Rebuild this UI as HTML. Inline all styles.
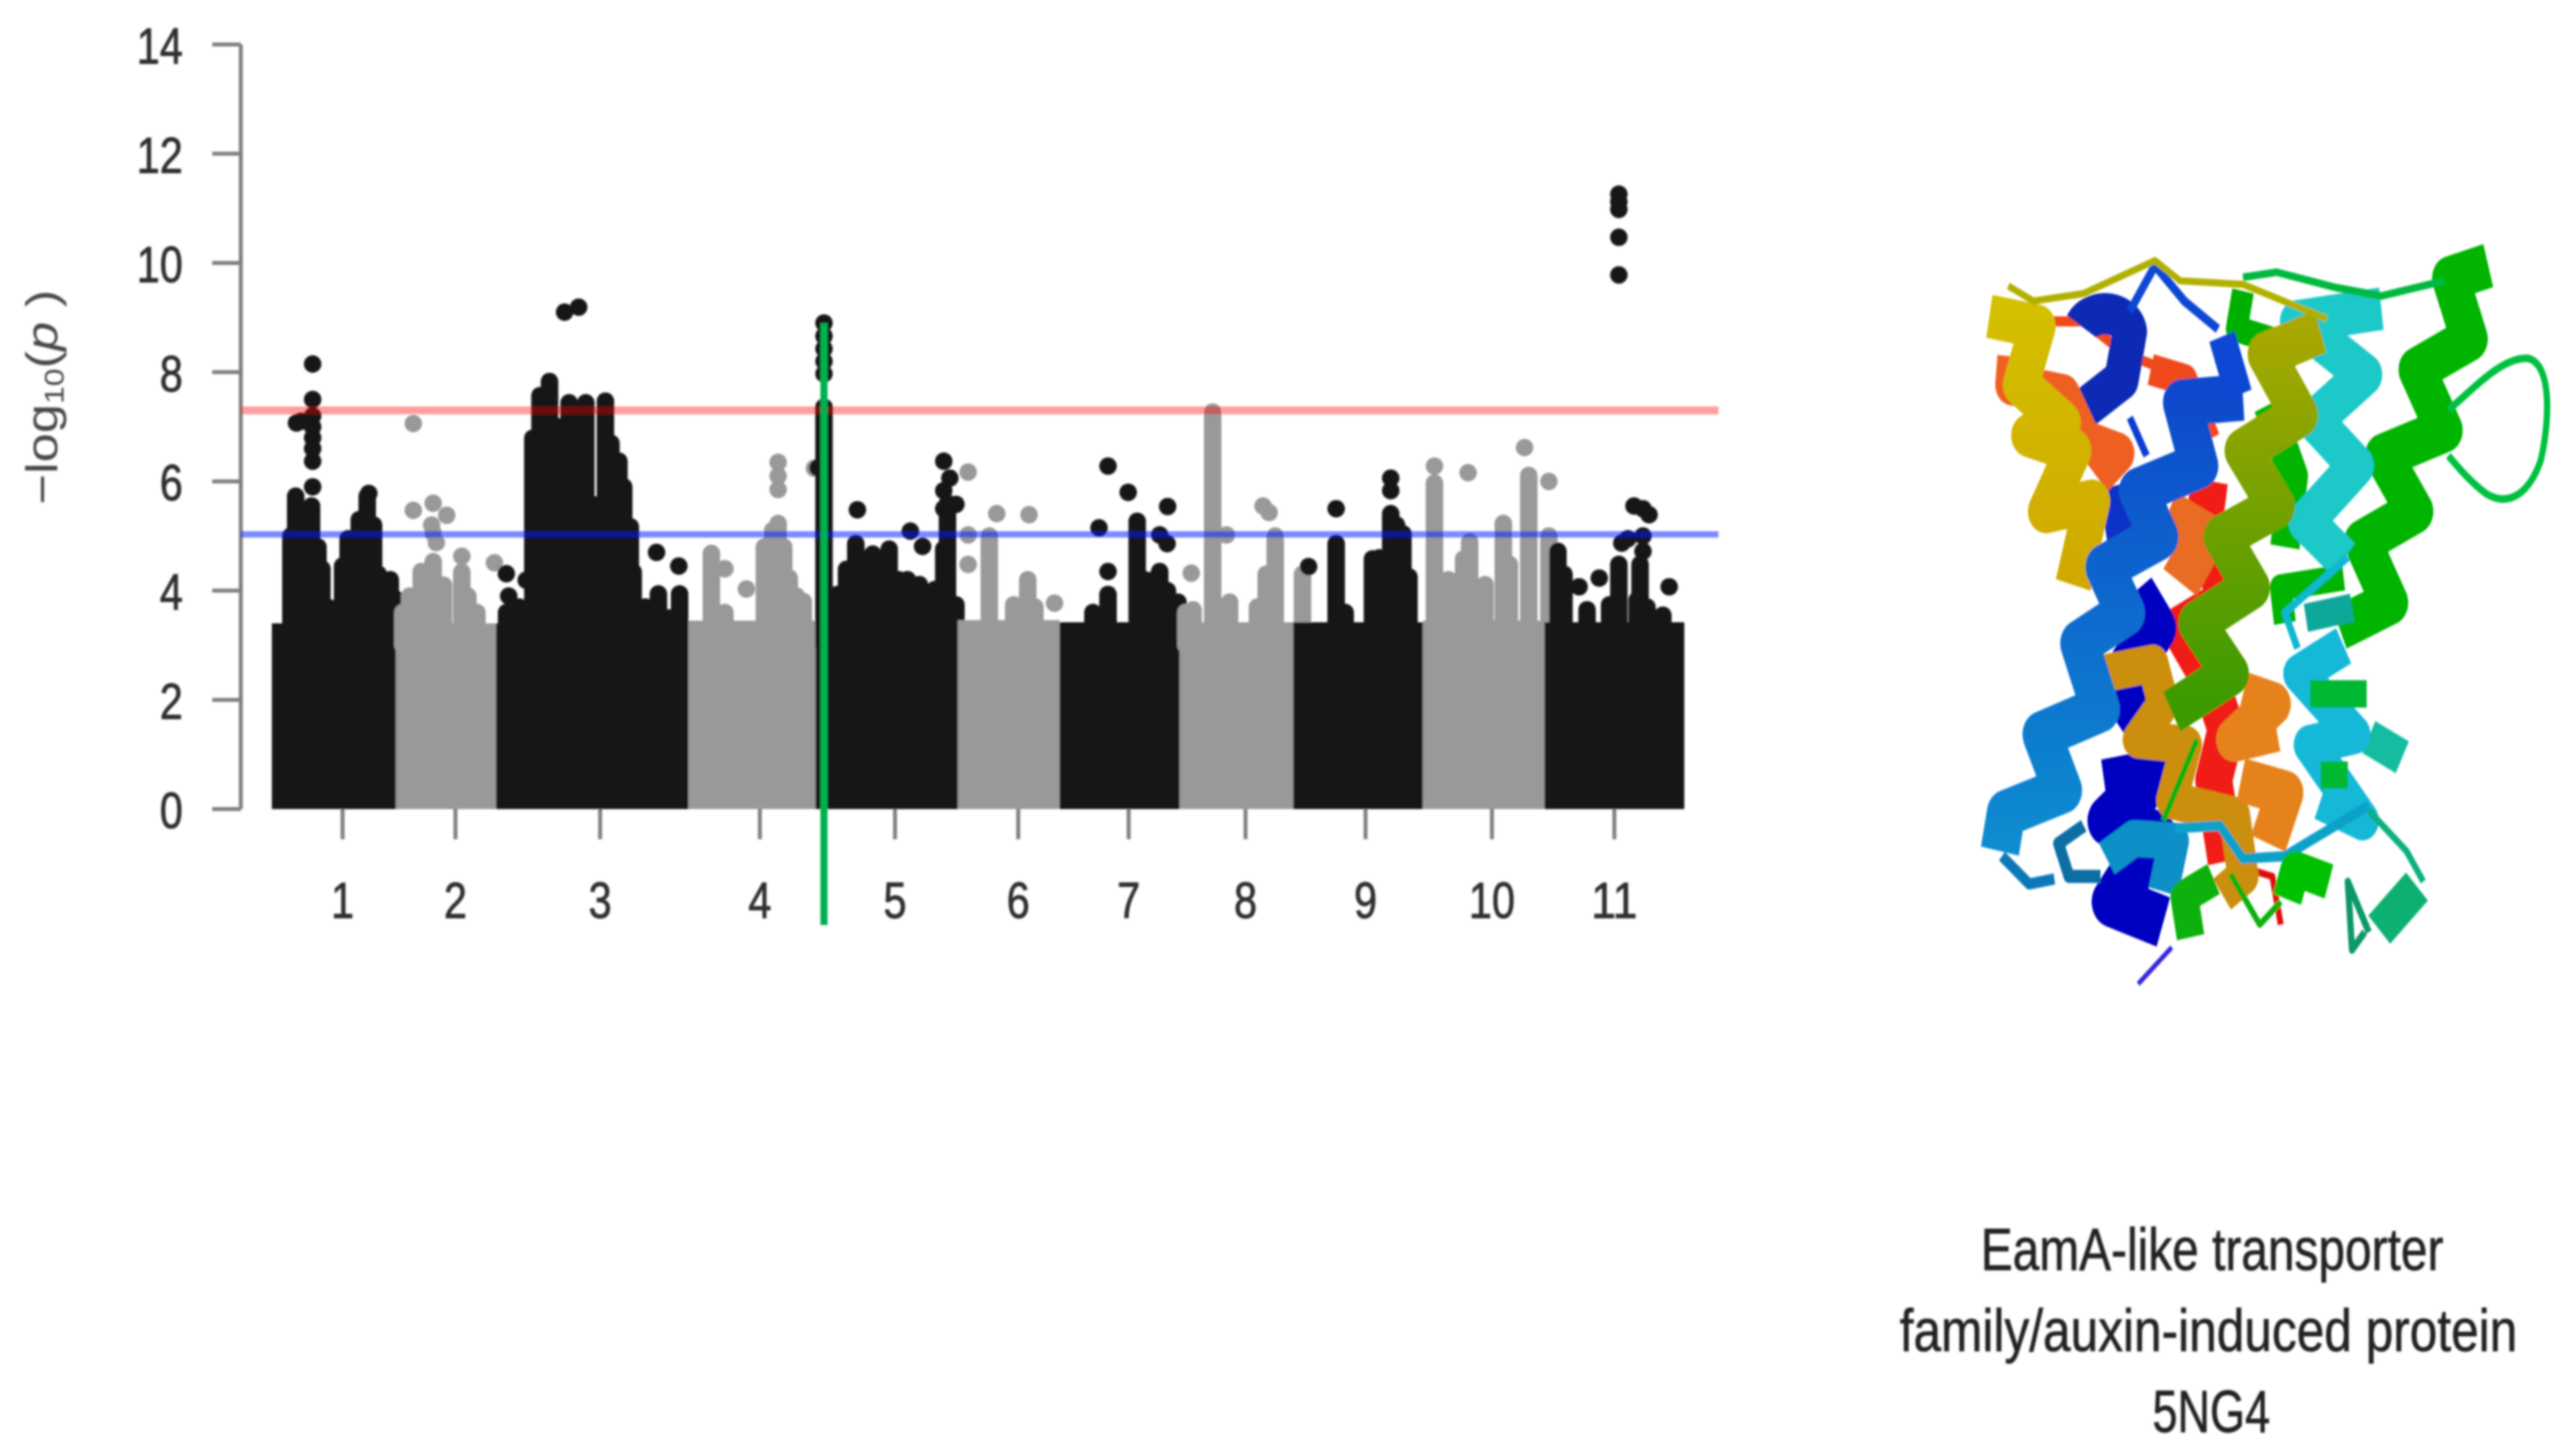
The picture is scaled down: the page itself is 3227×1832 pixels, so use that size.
<!DOCTYPE html>
<html lang="en">
<head>
<meta charset="utf-8">
<title>Manhattan plot and EamA-like transporter structure</title>
<style>
html,body{margin:0;padding:0;background:#fff;width:3227px;height:1832px;overflow:hidden}
svg{display:block}
text{font-family:"Liberation Sans",sans-serif}
</style>
</head>
<body>
<svg id="fig" xmlns="http://www.w3.org/2000/svg" width="3227" height="1832" viewBox="0 0 3227 1832">
<defs>
  <filter id="soft" x="-5%" y="-5%" width="110%" height="110%"><feGaussianBlur stdDeviation="1.4"/></filter>
  <filter id="softer" x="-5%" y="-5%" width="110%" height="110%"><feGaussianBlur stdDeviation="1.9"/></filter>
  <linearGradient id="blueGrad" gradientUnits="userSpaceOnUse" x1="0" y1="320" x2="0" y2="1300"><stop offset="0" stop-color="#0a48cc"/><stop offset="1" stop-color="#1092d0"/></linearGradient>
  <linearGradient id="oliveGrad" gradientUnits="userSpaceOnUse" x1="0" y1="210" x2="0" y2="960"><stop offset="0" stop-color="#a8a800"/><stop offset="1" stop-color="#3a9a00"/></linearGradient>
  <linearGradient id="yellowGrad" gradientUnits="userSpaceOnUse" x1="0" y1="150" x2="0" y2="720"><stop offset="0" stop-color="#d4c000"/><stop offset="1" stop-color="#d0a800"/></linearGradient>
</defs>

<g id="chart" filter="url(#soft)"></g>

<g id="protein" filter="url(#softer)" transform="translate(2400,280) scale(0.5274,0.6378)" fill="none" stroke-linejoin="round" stroke-linecap="butt">
  <path d="M720 510 L700 640 L770 740 L650 800 L720 900 L760 1000 L730 1100 L760 1260" stroke="#f01c14" stroke-width="88"/>
  <path d="M790 1270 L870 1290 L890 1385" stroke="#e01010" stroke-width="14"/>
  <path d="M330 195 L420 195 L520 260 L600 285" stroke="#f04a1c" stroke-width="20"/>
  <path d="M580 290 L660 310 L715 430" stroke="#f04a1c" stroke-width="62"/>
  <path d="M540 730 L590 800 L520 890 L560 960 L510 1000 M470 1110 L590 1090 L480 1180 L590 1210 L490 1340 L610 1380" stroke="#0404c0" stroke-width="102"/>
  <path d="M415 205 A60 40 0 0 1 530 215 L510 310 L425 365" stroke="#0a2cb4" stroke-width="82"/>
  <path d="M530 385 L570 460" stroke="#0a3cd0" stroke-width="16"/>
  <path d="M490 520 L510 620" stroke="#0a30c8" stroke-width="70"/>
  <path d="M255 265 L250 320 L370 340 L420 430 L500 455 L450 500" stroke="#ee6020" stroke-width="82"/>
  <path d="M195 185 L310 205 L270 320 L370 395 L290 420 L395 450 L330 570 L440 550 L395 715" stroke="url(#yellowGrad)" stroke-width="86"/>
  <path d="M620 575 L710 620 L650 710" stroke="#e86c20" stroke-width="96"/>
  <path d="M800 135 L785 210 L900 240" stroke="#00b000" stroke-width="52"/>
  <path d="M860 360 L920 500 L900 640" stroke="#00b400" stroke-width="70"/>
  <path d="M465 890 L585 870 L610 950 L550 1020 L665 1030 L630 1140 L780 1170 L800 1290 L750 1325" stroke="#cc8e08" stroke-width="74"/>
  <path d="M800 930 L870 950 L780 1020 L880 1000 M795 1100 L900 1125 L860 1225" stroke="#e6821c" stroke-width="88"/>
  <path d="M1385 85 L1295 110 L1340 230 L1215 290 L1280 410 L1135 460 L1210 570 L1085 630 L1150 750 L1030 800" stroke="#00b400" stroke-width="88"/>
  <path d="M1040 700 L890 720 L900 790" stroke="#00b400" stroke-width="52"/>
  <path d="M1130 170 L930 195 L1090 300 L970 390 L1070 480 L950 590 L1040 665" stroke="#1cc8c8" stroke-width="84"/>
  <path d="M985 215 L855 260 L935 380 L800 450 L880 560 L750 620 L820 720 L690 790 L770 890 L630 965" stroke="url(#oliveGrad)" stroke-width="88"/>
  <path d="M800 345 L655 355 L695 480 L550 530 L600 620 L470 680 L520 770 L410 830 L460 960 L320 1010 L370 1120 L235 1165 L220 1240" stroke="url(#blueGrad)" stroke-width="92"/>
  <path d="M225 1250 L290 1305 L350 1295" stroke="#1078b8" stroke-width="22"/>
  <path d="M530 175 L590 85 L660 155 L740 210" stroke="#0e46d4" stroke-width="18"/>
  <path d="M750 225 L790 340" stroke="#0e46d4" stroke-width="64"/>
  <path d="M1100 1015 L1180 1055" stroke="#12bca0" stroke-width="70"/>
  <path d="M950 780 L1060 760" stroke="#0ea89a" stroke-width="56"/>
  <path d="M1040 835 L935 890 L1065 1010 L960 1030 L1085 1180 L985 1140" stroke="#18b8d8" stroke-width="78"/>
  <path d="M960 930 L1095 930 M985 1090 L1050 1090" stroke="#00b830" stroke-width="54"/>
  <path d="M475 1255 L540 1215 L635 1220 L610 1320" stroke="#1090c8" stroke-width="72"/>
  <path d="M640 1195 L745 1190 L800 1255 L900 1250 L1000 1200 L1100 1150" stroke="#10a0c8" stroke-width="20"/>
  <path d="M420 1190 L360 1225 L385 1290 L460 1290" stroke="#106ea4" stroke-width="26"/>
  <path d="M1050 660 L900 770 L930 840" stroke="#10b8d0" stroke-width="16"/>
  <path d="M730 1295 L660 1330 L675 1410" stroke="#10b010" stroke-width="66"/>
  <path d="M1005 1300 L925 1275 L905 1335" stroke="#00c000" stroke-width="70"/>
  <path d="M890 1340 L840 1385 L770 1285 M690 1020 L610 1180" stroke="#10b010" stroke-width="13"/>
  <path d="M1100 1160 L1190 1240 L1230 1300" stroke="#10b080" stroke-width="14"/>
  <path d="M1215 1310 L1125 1395" stroke="#10b070" stroke-width="76"/>
  <path d="M1090 1400 L1060 1435 L1050 1300 L1100 1400" stroke="#0c9868" stroke-width="15"/>
  <path d="M1290 370 C1360 320 1420 265 1480 268 C1540 280 1530 400 1510 470 C1480 540 1430 560 1380 535 C1340 510 1310 480 1290 460" stroke="#00c040" stroke-width="15"/>
  <path d="M800 108 L880 98 L1020 128 L1130 145 L1280 115" stroke="#00b840" stroke-width="15"/>
  <path d="M240 125 L300 155 L420 140 L590 75 L650 115 L800 122 L1000 190" stroke="#b0b000" stroke-width="14"/>
  <path d="M630 1430 L550 1502" stroke="#3428e0" stroke-width="10"/>
</g>

<g filter="url(#soft)" fill="#222222" stroke="#222222" stroke-width="0.8" font-size="75" text-anchor="start">
  <text x="2492" y="1598" textLength="582" lengthAdjust="spacingAndGlyphs">EamA-like transporter</text>
  <text x="2390" y="1700" textLength="777" lengthAdjust="spacingAndGlyphs">family/auxin-induced protein</text>
  <text x="2708" y="1802" textLength="148" lengthAdjust="spacingAndGlyphs">5NG4</text>
</g>
</svg>

<script>
// Chromosome data (position units: Mb along the concatenated genome)
const chromLabels = ["1","2","3","4","5","6","7","8","9","10","11"];
const chromLengths = [46.8,37.8,72.6,48.0,53.7,38.4,45.3,42.9,48.9,45.9,52.8];
const chromTicks = [26.7,69.3,123.9,184.2,235.2,281.7,323.4,367.5,412.8,460.5,506.7];
const chromFloors = [3.4,3.4,3.4,3.45,3.7,3.46,3.42,3.42,3.42,3.45,3.42];
const yTicks = [0,2,4,6,8,10,12,14];
const genomeWideThreshold = 7.3;
const suggestiveThreshold = 5.03;
const markerPosition = 208.4;
const markerTop = 8.9;

// Dense columns of SNPs per chromosome: [position, top -log10(p)]
const columnsChr1 = [[7.2,5.0],[9,5.73],[12.9,5.2],[15,5.55],[17.4,4.8],[18.9,4.4],[21.9,3.68],[26.7,4.45],[28.8,4.95],[33,5.3],[36,5.73],[38.4,5.2],[40.2,4.3],[41.7,3.8],[44.7,4.2],[46.5,3.85]];
const columnsChr2 = [[49.5,3.6],[52,3.9],[56.4,4.35],[60.9,4.53],[64.8,4.1],[71.7,4.34],[74,3.9],[77.4,3.6]];
const columnsChr3 = [[88.6,3.6],[93.3,3.7],[98.5,6.79],[101.2,7.57],[104.8,7.83],[108,7.0],[112.2,7.44],[115,7.3],[118.5,7.44],[121.7,5.57],[125.9,7.47],[128,6.7],[131,6.37],[132.8,5.9],[135.3,5.17],[136.4,4.34],[138,3.7],[141,3.7],[145.9,3.94],[150,3.5],[153.9,3.94]];
const columnsChr4 = [[165.9,4.68],[171,3.6],[185.9,4.8],[189,5.1],[191.1,5.23],[193.2,4.8],[195.3,4.23],[198,3.9],[200.6,3.8]];
const columnsChr5 = [[208.4,7.36],[213.5,3.93],[216.9,4.39],[220.4,4.86],[223.8,4.3],[226.8,4.67],[230,4.4],[233,4.76],[236.5,4.2],[239.9,4.2],[244.4,4.11],[250.2,4.02],[253.6,4.76],[255,5.6],[258.2,3.74]];
const columnsChr6 = [[270.8,5.0],[280,3.74],[285.3,4.2],[288,3.7]];
const columnsChr7 = [[309.9,3.6],[315.6,3.93],[326.6,5.27],[329.4,4.2],[333,4.2],[335.1,4.35],[338,4.0],[342,3.79]];
const columnsChr8 = [[345,3.6],[347.7,3.65],[355.1,7.27],[361.5,3.79],[372,3.7],[375.3,4.3],[378.7,5.0],[389,4.3]];
const columnsChr9 = [[401.7,4.86],[405.1,3.6],[415.4,4.58],[418,4.6],[422.3,5.41],[424.5,5.2],[426.9,5.04],[429.2,4.25]];
const columnsChr10 = [[438.8,5.97],[444.1,4.2],[449.8,4.58],[452.1,4.9],[455,3.7],[457.9,4.11],[464.8,5.23],[467.1,4.48],[474.4,6.11],[482,5.0]];
const columnsChr11 = [[485.4,4.72],[487.7,4.3],[496.4,3.65],[504.9,3.74],[508.4,4.48],[515.3,3.83],[516.4,4.48],[519,3.7],[525,3.55]];
const chromColumns = [columnsChr1,columnsChr2,columnsChr3,columnsChr4,columnsChr5,columnsChr6,columnsChr7,columnsChr8,columnsChr9,columnsChr10,columnsChr11];

// Individually visible SNPs per chromosome: [position, -log10(p)]
const pointsChr1 = [[9.3,7.07],[11,7.1],[15.4,8.15],[15.4,7.5],[15.4,7.2],[15.4,7.0],[15.4,6.8],[15.4,6.6],[15.4,6.37],[15.4,5.9],[36.6,5.78]];
const pointsChr2 = [[53.4,7.06],[53.4,5.47],[60.9,5.6],[66,5.38],[60.3,5.2],[60.9,5.05],[62.1,4.88],[71.7,4.63],[84,4.51]];
const pointsChr3 = [[88.5,4.31],[89.4,3.9],[96,4.19],[110.5,9.1],[115.8,9.19],[145.2,4.7],[153.6,4.45]];
const pointsChr4 = [[171,4.4],[179.1,4.03],[191.1,6.35],[191.1,6.1],[191.1,5.85],[204.8,6.24],[165.9,4.68]];
const pointsChr5 = [[208.4,8.9],[208.4,8.66],[208.4,8.43],[208.4,8.2],[208.4,7.97],[206.1,6.25],[221,5.48],[241,5.09],[245.6,4.81],[253.6,6.37],[255.9,6.06],[253.6,5.83],[258.2,5.58],[253.6,5.5]];
const pointsChr6 = [[262.8,6.17],[262.8,5.02],[262.8,4.48],[273.6,5.41],[285.8,5.39],[295.4,3.77]];
const pointsChr7 = [[315.6,6.28],[323.2,5.8],[338.1,5.54],[312.2,5.15],[315.6,4.35],[335.1,5.02],[337.9,4.86]];
const pointsChr8 = [[347,4.32],[374.1,5.55],[376.4,5.43],[360.3,5.02]];
const pointsChr9 = [[391.3,4.44],[401.7,5.5],[422.3,6.06],[422.3,5.83]];
const pointsChr10 = [[438.8,6.28],[451.5,6.16],[472.8,6.62],[482,6.0]];
const pointsChr11 = [[508.4,11.26],[508.4,11.12],[508.4,10.98],[508.4,10.47],[508.4,9.78],[493.4,4.07],[501,4.23],[527.4,4.07],[514.1,5.55],[519.8,5.39],[517.5,5.5],[517.5,5.0],[509.5,4.87],[517.5,4.72],[511.8,4.95]];
const chromPoints = [pointsChr1,pointsChr2,pointsChr3,pointsChr4,pointsChr5,pointsChr6,pointsChr7,pointsChr8,pointsChr9,pointsChr10,pointsChr11];

const NS = "http://www.w3.org/2000/svg";
const chart = document.getElementById("chart");
const totalLength = chromLengths.reduce(function (a, b) { return a + b; }, 0);
function xAxis(pos) { return 342 + pos * (2119 - 342) / totalLength; }
function yAxis(v) { return 1018 - v * (1018 - 56) / 14; }
function seriesColor(i) { return i % 2 === 0 ? "#141414" : "#999999"; }
function make(tag, attrs, parent) {
  const el = document.createElementNS(NS, tag);
  Object.keys(attrs).forEach(function (k) { el.setAttribute(k, attrs[k]); });
  (parent || chart).appendChild(el);
  return el;
}

// Chromosome floors, columns and points
let offset = 0;
chromLengths.forEach(function (len, i) {
  const g = make("g", {});
  
  
  const color = seriesColor(i);
  const floor = make("rect", {
    x: xAxis(offset), y: yAxis(chromFloors[i]),
    width: xAxis(offset + len) - xAxis(offset),
    height: yAxis(0) - yAxis(chromFloors[i]), fill: color
  }, g);
  
  
  chromColumns[i].forEach(function (c) {
    const stem = make("line", {
      x1: xAxis(c[0]), x2: xAxis(c[0]), y1: yAxis(3), y2: yAxis(c[1]),
      stroke: color, "stroke-width": 22, "stroke-linecap": "round"
    }, g);
    
    
  });
  chromPoints[i].forEach(function (p) {
    const dot = make("circle", { cx: xAxis(p[0]), cy: yAxis(p[1]), r: 11, fill: color }, g);
    
    
  });
  offset += len;
});

// Y axis
const axisY = make("g", { stroke: "#808080", "stroke-width": 5, fill: "none" });


const axisYLine = make("line", { x1: 303, x2: 303, y1: yAxis(yTicks[yTicks.length - 1]), y2: yAxis(yTicks[0]) }, axisY);


yTicks.forEach(function (t) {
  const tick = make("line", { x1: 267, x2: 303, y1: yAxis(t), y2: yAxis(t) }, axisY);
  
  
  const s = String(t);
  const label = make("text", {
    x: 230, y: yAxis(t) + 24, "text-anchor": "end", "font-size": 64, fill: "#2e2e2e",
    stroke: "#2e2e2e", "stroke-width": 1,
    textLength: s.length * 29, lengthAdjust: "spacingAndGlyphs"
  });
  label.textContent = s;
  
  
});

// X ticks and chromosome labels
chromTicks.forEach(function (t, i) {
  const tick = make("line", { x1: xAxis(t), x2: xAxis(t), y1: 1018, y2: 1056, stroke: "#808080", "stroke-width": 5 });
  
  
  const s = chromLabels[i];
  const label = make("text", {
    x: xAxis(t), y: 1155, "text-anchor": "middle", "font-size": 64, fill: "#2e2e2e",
    stroke: "#2e2e2e", "stroke-width": 1,
    textLength: s.length * 29, lengthAdjust: "spacingAndGlyphs"
  });
  label.textContent = s;
  
  
});

// Y axis title
const title = make("text", {
  transform: "translate(72,635) rotate(-90) scale(1.18,1)", "font-size": 56, fill: "#4a4a4a"
});


title.innerHTML = '<tspan>\u2212log</tspan><tspan font-size="34" dy="8">10</tspan><tspan dy="-8">(</tspan><tspan font-style="italic">p</tspan><tspan> )</tspan>';

// Threshold lines
const redLine = make("line", { x1: 303, x2: 2162, y1: yAxis(genomeWideThreshold), y2: yAxis(genomeWideThreshold), stroke: "#ff0000", "stroke-opacity": 0.38, "stroke-width": 10 });


const blueLine = make("line", { x1: 303, x2: 2162, y1: yAxis(suggestiveThreshold), y2: yAxis(suggestiveThreshold), stroke: "#0a1eff", "stroke-opacity": 0.52, "stroke-width": 8 });



// Highlighted locus
const marker = make("line", { x1: xAxis(markerPosition), x2: xAxis(markerPosition), y1: yAxis(markerTop), y2: 1164, stroke: "#00b04f", "stroke-width": 9 });


</script>
</body>
</html>
